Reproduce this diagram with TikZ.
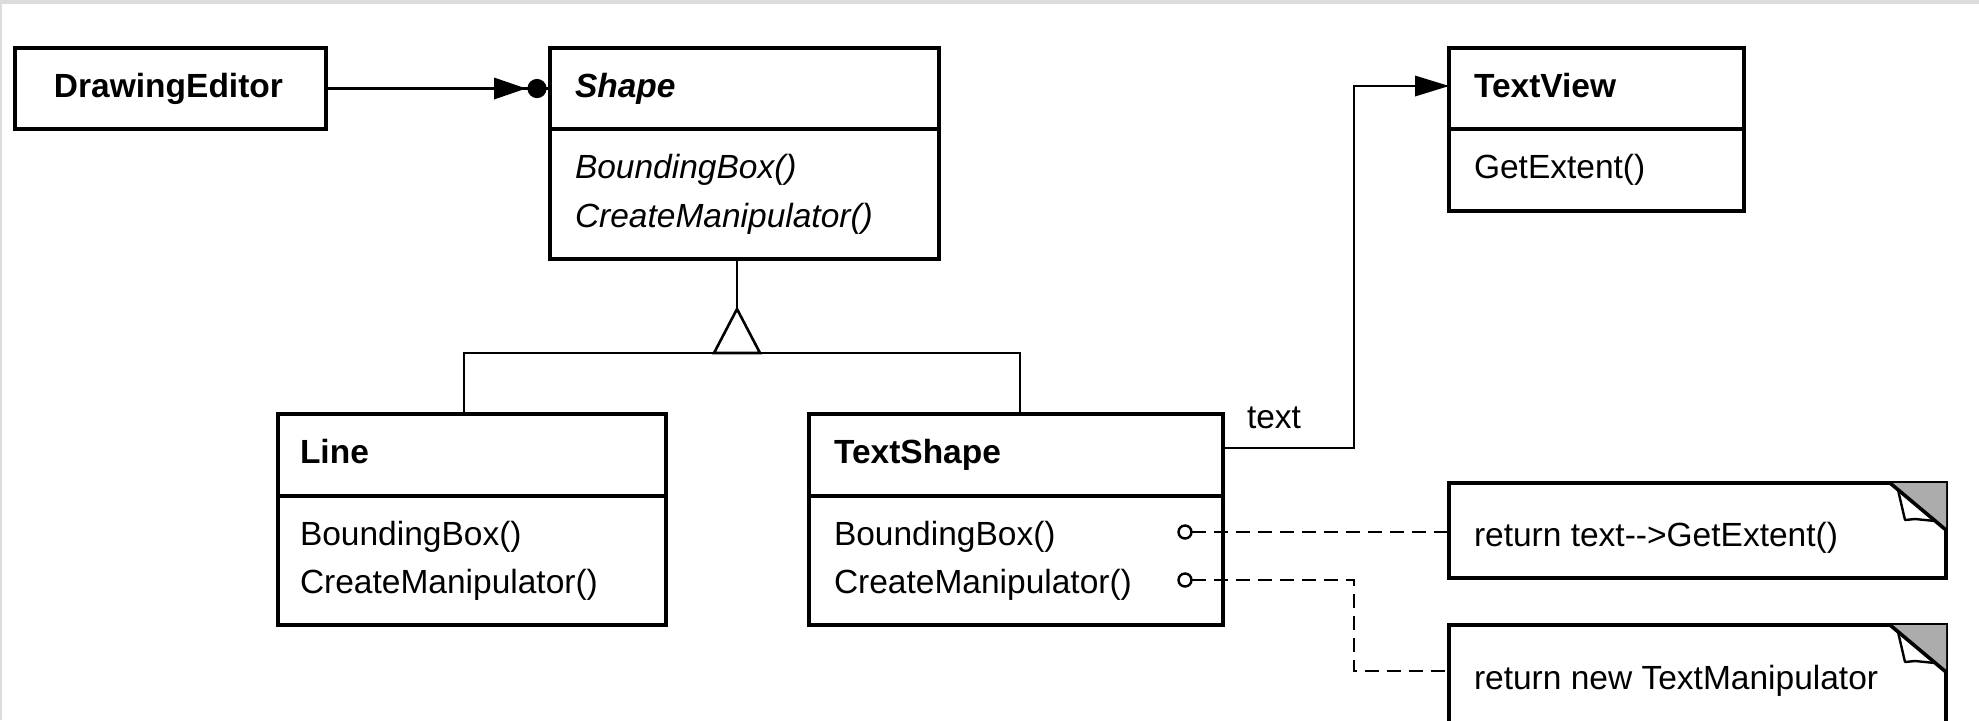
\documentclass[tikz,border=0pt]{standalone}
\usepackage{fontspec}
\setmainfont{Liberation Sans}
\definecolor{band}{RGB}{220,220,220}
\definecolor{fold}{RGB}{172,172,172}
\begin{document}
\begin{tikzpicture}[x=0.5pt,y=-0.5pt,
  every node/.style={inner sep=0pt, outer sep=0pt},
  box/.style={draw, line width=1.8pt, anchor=north west, fill=white},
  boxline/.style={line width=1.8pt},
  conn/.style={line width=1.3pt},
  dashconn/.style={line width=1.3pt, dash pattern=on 7pt off 4pt},
  nm/.style={anchor=base west, font=\fontsize{16.75pt}{20pt}\selectfont\bfseries},
  op/.style={anchor=base west, font=\fontsize{16.75pt}{20pt}\selectfont},
  knob/.style={draw, circle, line width=1.2pt, minimum size=6.5pt, fill=white}
]
\useasboundingbox (0,0) rectangle (1979,720);
\clip (0,0) rectangle (1979,720);
\fill[white] (0,0) rectangle (1979,720);
\fill[band] (0,0) rectangle (1979,4);
\fill[band] (0,0) rectangle (2,720);

% DrawingEditor
\node[box, minimum width=155.5pt, minimum height=40.5pt] (DE) at (15,48) {};
\node[nm] (DEt) at (54,97) {DrawingEditor};

% Shape
\node[box, minimum width=194.5pt, minimum height=105.5pt] (SH) at (550,48) {};
\draw[boxline] ([yshift=-40.5pt]SH.north west) -- ([yshift=-40.5pt]SH.north east);
\node[nm, font=\fontsize{16.75pt}{20pt}\selectfont\bfseries\itshape] (SHt) at (575,97) {Shape};
\node[op, font=\fontsize{16.75pt}{20pt}\selectfont\itshape] (SHm1) at (575,178) {BoundingBox()};
\node[op, font=\fontsize{16.75pt}{20pt}\selectfont\itshape] (SHm2) at (575,227) {CreateManipulator()};

% TextView
\node[box, minimum width=147.5pt, minimum height=81.5pt] (TV) at (1449,48) {};
\draw[boxline] ([yshift=-40.5pt]TV.north west) -- ([yshift=-40.5pt]TV.north east);
\node[nm] (TVt) at (1474,97) {TextView};
\node[op] (TVm1) at (1474,178) {GetExtent()};

% Line
\node[box, minimum width=194pt, minimum height=105.5pt] (LN) at (278,414) {};
\draw[boxline] ([yshift=-41pt]LN.north west) -- ([yshift=-41pt]LN.north east);
\node[nm] (LNt) at (300,463) {Line};
\node[op] (LNm1) at (300,545) {BoundingBox()};
\node[op] (LNm2) at (300,593) {CreateManipulator()};

% TextShape
\node[box, minimum width=207pt, minimum height=105.5pt] (TS) at (809,414) {};
\draw[boxline] ([yshift=-41pt]TS.north west) -- ([yshift=-41pt]TS.north east);
\node[nm] (TSt) at (834,463) {TextShape};
\node[op] (TSm1) at (834,545) {BoundingBox()};
\node[op] (TSm2) at (834,593) {CreateManipulator()};

% Notes
\node[box, minimum width=248.5pt, minimum height=47.5pt] (N1) at (1449,483) {};
\node[op] (N1t) at (1474,546) {return text-{}->GetExtent()};
\node[box, minimum width=248.5pt, minimum height=75pt] (N2) at (1449,625) {};
\node[op] (N2t) at (1474,689) {return new TextManipulator};

\foreach \n in {N1,N2}{
  \begin{scope}[shift={(\n.north east)}]
    \fill[fold] (-56,0) -- (0,0) -- (0,47) -- cycle;
    \draw[line width=1.2pt, fill=white, line join=round] (-48,7) -- (-41,37) -- (-31,36) -- (-11,38);
    \draw[line width=1.8pt] (-56,0) -- (0,47);
  \end{scope}
}

% Aggregation DrawingEditor -> Shape
\draw[conn] (DE.east) -- (DE.east -| SH.west);
\fill ([xshift=-28pt,yshift=5.5pt]DE.east -| SH.west) -- ([xshift=-28pt,yshift=-5.5pt]DE.east -| SH.west) -- ([xshift=-12pt]DE.east -| SH.west) -- cycle;
\fill ([xshift=-6.5pt]DE.east -| SH.west) circle (4.8pt);

% Inheritance
\draw[conn] ([xshift=-3.75pt]SH.south) -- ++(0,50) coordinate (apex);
\draw[conn] ([xshift=-4pt]LN.north) |- (1020,353) -- ([xshift=2pt]TS.north);
\draw[conn, fill=white] (apex) -- ++(-23,44) -- ++(46,0) -- cycle;

% TextShape -> TextView
\draw[conn] ([yshift=35.75pt]TS.east) -- ++(131,0) |- ([yshift=21.75pt]TV.west);
\fill ([xshift=-17pt,yshift=27pt]TV.west) -- ([xshift=-17pt,yshift=16.5pt]TV.west) -- ([yshift=21.75pt]TV.west) -- cycle;
\node[op] (lbl) at (1247,428) {text};

% Note connectors
\node[knob] (k1) at (1185,532) {};
\node[knob] (k2) at (1185,580) {};
\draw[dashconn] (k1.east) -- (k1.east -| N1.west);
\draw[dashconn] (k2.east) -| (1354,671) -- ([yshift=-23pt]N2.north west);
\end{tikzpicture}
\end{document}
